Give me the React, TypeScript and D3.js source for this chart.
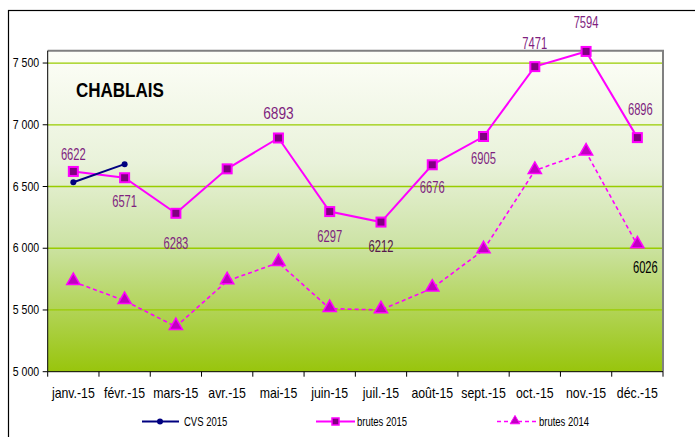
import React from "react";
import * as d3 from "d3";

const months = ["janv.-15", "févr.-15", "mars-15", "avr.-15", "mai-15", "juin-15", "juil.-15", "août-15", "sept.-15", "oct.-15", "nov.-15", "déc.-15"];
const cvs2015 = [6535, 6681];
const brutes2015 = [6622, 6571, 6283, 6643, 6893, 6297, 6212, 6676, 6905, 7471, 7594, 6896];
const brutes2014 = [5729, 5575, 5365, 5735, 5883, 5511, 5500, 5676, 5986, 6629, 6778, 6026];
const yTicks = [5000, 5500, 6000, 6500, 7000, 7500];
const labelled2015 = [true, true, true, false, true, true, true, true, true, true, true, true];

const W = 695, H = 437;
const L = 47.7, R = 663, T = 50.7, B = 371.7;
const FONT = "'Liberation Sans', Arial, sans-serif";
// label offsets (dx, dy) relative to the point
const labelDx = [0, 0, 0, 0, 0, 0, 0, 0, 0, 0, 0, 3];
const labelDy = [-11, 29, 36, 0, -19, 30, 30, 28.5, 27, -18, -23, -23];

function NText({ x, y, sx, size, anchor = "start", fill = "#000", weight = "normal", children }: any) {
  return (
    <g transform={`translate(${x},${y}) scale(${sx},1)`}>
      <text x={0} y={0} textAnchor={anchor} fontFamily={FONT} fontSize={size} fill={fill} fontWeight={weight}>{children}</text>
    </g>
  );
}

export default function App() {
  const x = d3.scaleBand<string>().domain(months).range([L, R]);
  const y = d3.scaleLinear().domain([5000, 7600]).range([B, T]);
  const cx = (i: number) => (x(months[i]) as number) + x.bandwidth() / 2;
  const line = d3.line<number>().x((_, i) => cx(i)).y((d) => y(d));
  const fmt = (v: number) => d3.format(",")(v).replace(",", " ");
  const tri = d3.symbol().type(d3.symbolTriangle).size(75)();

  return (
    <svg width={W} height={H} style={{ position: "absolute", left: 0, top: 0, background: "#fff" }}>
      <defs>
        <linearGradient id="bg" x1="0" y1="0" x2="0" y2="1">
          <stop offset="0%" stopColor="#FDFEF8" />
          <stop offset="35%" stopColor="#E9F2DA" />
          <stop offset="60%" stopColor="#CDE3A6" />
          <stop offset="100%" stopColor="#98C50C" />
        </linearGradient>
      </defs>
      <rect x={8.5} y={10.5} width={W} height={H} fill="#fff" stroke="#000" strokeWidth={1.2} />
      <rect x={L} y={T} width={R - L} height={B - T} fill="url(#bg)" />
      {yTicks.slice(1).map((t) => (
        <line key={t} x1={L} x2={R} y1={y(t)} y2={y(t)} stroke="#99CC00" strokeWidth={1.3} />
      ))}
      <path d={`M${L},${T}H${R}V${B}`} fill="none" stroke="#808080" strokeWidth={2} />
      <line x1={L} x2={L} y1={T} y2={B} stroke="#000" strokeWidth={1} />
      <line x1={L} x2={R} y1={B} y2={B} stroke="#000" strokeWidth={1} />
      {yTicks.map((t) => (
        <g key={t}>
          <line x1={L - 5} x2={L} y1={y(t)} y2={y(t)} stroke="#000" />
          <NText x={L - 8.5} y={y(t) + 4.2} sx={0.88} size={12} anchor="end">{fmt(t)}</NText>
        </g>
      ))}
      {months.map((m) => (
        <line key={m} x1={x(m) as number} x2={x(m) as number} y1={B} y2={B + 5} stroke="#000" />
      ))}
      <line x1={R} x2={R} y1={B} y2={B + 5} stroke="#000" />
      {months.map((m, i) => (
        <NText key={m} x={cx(i)} y={398} sx={0.88} size={14} anchor="middle">{m}</NText>
      ))}
      <NText x={76} y={96.5} sx={0.81} size={21} weight="bold">CHABLAIS</NText>

      {/* brutes 2014 */}
      <path d={line(brutes2014) as string} fill="none" stroke="#FF00FF" strokeWidth={1.6} strokeDasharray="4,3" />
      {brutes2014.map((v, i) => (
        <path key={i} d={tri as string} transform={`translate(${cx(i)},${y(v) - 1})`} fill="#C000C0" stroke="#FF00FF" strokeWidth={1.5} />
      ))}
      {/* brutes 2015 */}
      <path d={line(brutes2015) as string} fill="none" stroke="#FF00FF" strokeWidth={2} />
      {brutes2015.map((v, i) => (
        <rect key={i} x={cx(i) - 4.5} y={y(v) - 4.5} width={9} height={9} fill="#800080" stroke="#FF00FF" strokeWidth={2} />
      ))}
      {/* CVS 2015 */}
      <path d={line(cvs2015) as string} fill="none" stroke="#000080" strokeWidth={2} />
      {cvs2015.map((v, i) => (
        <circle key={i} cx={cx(i)} cy={y(v)} r={3} fill="#000080" />
      ))}
      {/* labels */}
      {brutes2015.map((v, i) => {
        if (!labelled2015[i]) return null;
        return (
          <NText key={i} x={cx(i) + labelDx[i]} y={y(v) + labelDy[i]} sx={i === 4 ? 0.86 : 0.7} size={16} anchor="middle" fill={i === 6 ? "#55184A" : "#7F1F7F"}>{v}</NText>
        );
      })}
      <NText x={cx(11) + 8} y={y(brutes2014[11]) + 28} sx={0.7} size={16} anchor="middle" fill="#000">{brutes2014[11]}</NText>

      {/* legend */}
      <line x1={142} x2={179} y1={421.5} y2={421.5} stroke="#000080" strokeWidth={2} />
      <circle cx={160} cy={421.5} r={3} fill="#000080" />
      <NText x={184} y={426} sx={0.73} size={13}>CVS 2015</NText>
      <line x1={316} x2={355} y1={421.5} y2={421.5} stroke="#FF00FF" strokeWidth={2} />
      <rect x={332} y={418} width={7} height={7} fill="#800080" stroke="#FF00FF" strokeWidth={1.5} />
      <NText x={357} y={426} sx={0.73} size={13}>brutes 2015</NText>
      <line x1={497} x2={537} y1={421.5} y2={421.5} stroke="#FF00FF" strokeWidth={1.6} strokeDasharray="4,3" />
      <path d={d3.symbol().type(d3.symbolTriangle).size(40)() as string} transform="translate(515,421)" fill="#C000C0" stroke="#FF00FF" strokeWidth={1} />
      <NText x={539} y={426} sx={0.73} size={13}>brutes 2014</NText>
    </svg>
  );
}
